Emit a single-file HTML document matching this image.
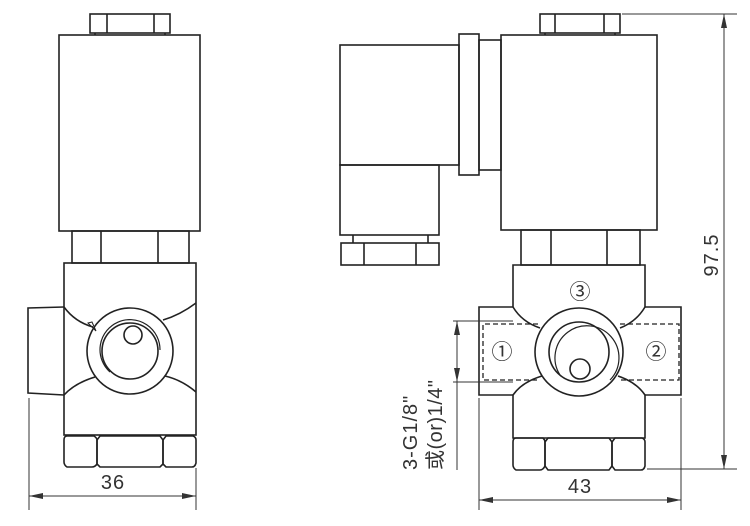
<!DOCTYPE html>
<html><head><meta charset="utf-8"><style>
html,body{margin:0;padding:0;background:#fff;}
svg{display:block;}
text{font-family:"Liberation Sans","Noto Sans CJK SC",sans-serif;fill:#333;}
</style></head><body>
<svg width="750" height="526" viewBox="0 0 750 526" xmlns="http://www.w3.org/2000/svg">
<g fill="none" stroke="#222" stroke-width="1.6">
<!-- LEFT VIEW -->
<rect x="90" y="14" width="80" height="19"/>
<line x1="107" y1="14" x2="107" y2="33"/><line x1="154" y1="14" x2="154" y2="33"/>
<line x1="95" y1="33" x2="95" y2="35"/><line x1="165" y1="33" x2="165" y2="35"/>
<rect x="59" y="35" width="141" height="196"/>
<rect x="72" y="231" width="117" height="32"/>
<line x1="101" y1="231" x2="101" y2="263"/><line x1="158" y1="231" x2="158" y2="263"/>
<rect x="64" y="263" width="132" height="172"/>
<path d="M64 307 L28 308 L28 393 L64 395"/>
<path d="M64 307 Q75 322 93 327"/>
<path d="M196 303 Q180 315 163 320"/>
<path d="M64 395 Q75 383 95 377"/>
<path d="M196 392 Q182 380 165 376"/>
<path d="M88 323 L96 331 L92 322 Z" stroke-width="1"/>
<circle cx="130" cy="351" r="43"/>
<circle cx="130" cy="351" r="28"/>
<path d="M110 372 A30 30 0 1 1 160 350" stroke-width="1.2"/>
<circle cx="133" cy="335" r="9"/>
<path d="M67 436 L94 436 Q97 438 97 440 L97 464 Q95 467 92 467 L67 467 Q64 465 64 462 L64 440 Q64 436 67 436 Z"/>
<path d="M100 436 L160 436 L163 440 L163 464 L160 467 L100 467 L97 464 L97 440 Z"/>
<path d="M166 436 L193 436 Q196 437 196 440 L196 463 Q195 467 192 467 L166 467 L163 464 L163 440 Z"/>
<!-- RIGHT VIEW -->
<rect x="540" y="14" width="80" height="19"/>
<line x1="555" y1="14" x2="555" y2="33"/><line x1="604" y1="14" x2="604" y2="33"/>
<line x1="545" y1="33" x2="545" y2="35"/><line x1="615" y1="33" x2="615" y2="35"/>
<rect x="501" y="35" width="156" height="195"/>
<rect x="340" y="45" width="119" height="120"/>
<rect x="340" y="165" width="99" height="70"/>
<rect x="459" y="34" width="20" height="141"/>
<rect x="479" y="40" width="22" height="130"/>
<line x1="353" y1="235" x2="353" y2="243"/><line x1="428" y1="235" x2="428" y2="243"/>
<rect x="341" y="243" width="98" height="22"/>
<line x1="364" y1="243" x2="364" y2="265"/><line x1="416" y1="243" x2="416" y2="265"/>
<rect x="521" y="230" width="119" height="35"/>
<line x1="551" y1="230" x2="551" y2="265"/><line x1="607" y1="230" x2="607" y2="265"/>
<path d="M513 265 L645 265 L645 307 L681 307 L681 395 L645 395 L645 438 L513 438 L513 395 L479 395 L479 307 L513 307 Z"/>
<path d="M513 307 Q522 322 540 328"/>
<path d="M645 307 Q636 322 620 328"/>
<path d="M513 395 Q522 382 542 376"/>
<path d="M645 395 Q636 382 618 376"/>
<circle cx="579" cy="352" r="44"/>
<circle cx="579" cy="352" r="30"/>
<path d="M560 375 A32 32 0 1 1 610 380" stroke-width="1.2"/>
<circle cx="580" cy="369" r="10"/>
<path d="M516 438 L543 438 Q545 440 545 442 L545 466 Q543 470 540 470 L516 470 Q513 468 513 465 L513 442 Q513 438 516 438 Z"/>
<path d="M548 438 L609 438 L612 442 L612 466 L609 470 L548 470 L545 466 L545 442 Z"/>
<path d="M615 438 L642 438 Q645 439 645 442 L645 466 Q644 470 641 470 L615 470 L612 466 L612 442 Z"/>
</g>
<g fill="none" stroke="#222" stroke-width="1.3" stroke-dasharray="5,3">
<path d="M538 324 L483 324 L483 380 L538 380"/>
<path d="M620 324 L679 324 L679 380 L620 380"/>
</g>
<!-- dimensions -->
<g fill="none" stroke="#333" stroke-width="1">
<line x1="29" y1="398" x2="29" y2="510"/><line x1="196" y1="468" x2="196" y2="510"/>
<line x1="29" y1="496" x2="196" y2="496"/>
<line x1="479" y1="398" x2="479" y2="510"/><line x1="681" y1="398" x2="681" y2="510"/>
<line x1="479" y1="500" x2="681" y2="500"/>
<line x1="622" y1="14" x2="737" y2="14"/><line x1="647" y1="469" x2="737" y2="469"/>
<line x1="724" y1="14" x2="724" y2="469"/>
<line x1="453" y1="321" x2="513" y2="321"/><line x1="453" y1="382" x2="513" y2="382"/>
<line x1="457" y1="321" x2="457" y2="470"/>
</g>
<g fill="#333">
<path d="M29 496 L43 493 L43 499 Z"/><path d="M196 496 L182 493 L182 499 Z"/>
<path d="M479 500 L493 497 L493 503 Z"/><path d="M681 500 L667 497 L667 503 Z"/>
<path d="M724 14 L721 28 L727 28 Z"/><path d="M724 469 L721 455 L727 455 Z"/>
<path d="M457 321 L454 335 L460 335 Z"/><path d="M457 382 L454 368 L460 368 Z"/>
</g>
<text x="113" y="489" font-size="20" text-anchor="middle" letter-spacing="1">36</text>
<text x="580" y="493" font-size="20" text-anchor="middle" letter-spacing="1">43</text>
<text transform="translate(718,255) rotate(-90)" font-size="20" text-anchor="middle" letter-spacing="1">97.5</text>
<text transform="translate(417,470) rotate(-90)" font-size="20" letter-spacing="1">3-G1/8"</text>
<text transform="translate(442,470) rotate(-90)" font-size="20" letter-spacing="0.5">或(or)1/4"</text>
<g font-size="21" text-anchor="middle">
<text x="502" y="359">①</text><text x="656" y="359">②</text><text x="580" y="299">③</text>
</g>
</svg>
</body></html>
